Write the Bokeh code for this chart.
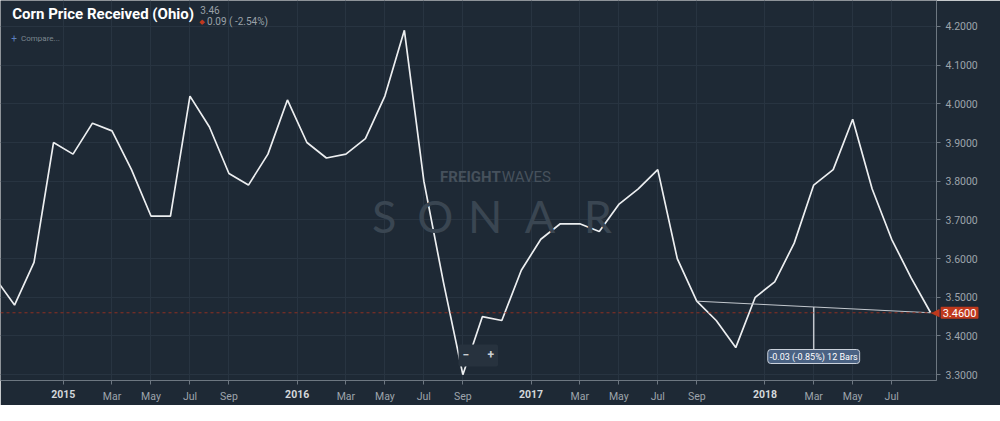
import pandas as pd
from bokeh.plotting import figure
from bokeh.models import Range1d, FixedTicker, Span, Label, PrintfTickFormatter
from bokeh.embed import file_html
from bokeh.resources import INLINE

# ---------------- data ----------------
months = [d.strftime("%Y-%m") for d in pd.date_range("2014-09-01", "2018-09-01", freq="MS")]
price = [3.55, 3.48, 3.59, 3.90,
         3.87, 3.95, 3.93, 3.83, 3.71, 3.71, 4.02, 3.94, 3.82, 3.79, 3.87, 4.01,
         3.90, 3.86, 3.87, 3.91, 4.02, 4.19, 3.80, 3.54, 3.30, 3.45, 3.44, 3.57,
         3.65, 3.69, 3.69, 3.67, 3.74, 3.78, 3.83, 3.60, 3.49, 3.44, 3.37, 3.50,
         3.54, 3.64, 3.79, 3.83, 3.96, 3.78, 3.65, 3.55, 3.46]
y_ticks = [3.3, 3.4, 3.5, 3.6, 3.7, 3.8, 3.9, 4.0, 4.1, 4.2]
month_ticks = {"03": "Mar", "05": "May", "07": "Jul", "09": "Sep"}
title = "Corn Price Received (Ohio)"
last_txt = "3.46"
change_txt = "0.09 ( -2.54%)"
measure_txt = "-0.03 (-0.85%) 12 Bars"
measure_start = "2017-09"
measure_mid = "2018-03"

idx = list(range(len(price)))

BG = "#1e2935"
GRID = "#283441"
AXC = "#6d7781"
LBL = "#9da4ab"
RED = "#c0391d"

FW, FH = 936, 380
Y0, Y1 = 3.285, 4.267
kx, ky = FW / 956.0, FH / 395.0
def sx(v): return v * kx
def sy(v): return FH - v * ky
px_per_unit = FH / (Y1 - Y0)

p = figure(frame_width=FW, frame_height=FH, output_backend="svg", toolbar_location=None,
           x_range=Range1d(0.28, 48.3), y_range=Range1d(Y0, Y1),
           y_axis_location="right", x_axis_location="below",
           background_fill_color=BG, border_fill_color=BG, min_border=0,
           min_border_bottom=25)
p.outline_line_color = None

# ticks
xt, xl, yr_x, yr_t = [], {}, [], []
for i, m in enumerate(months[:-1]):
    yr, mo = m.split("-")
    if mo in month_ticks:
        xt.append(i); xl[i] = month_ticks[mo]
    if mo == "01":
        xt.append(i - 0.5); xl[i - 0.5] = " "
        yr_x.append(i - 0.5); yr_t.append(yr)

p.xaxis.ticker = FixedTicker(ticks=xt)
p.xaxis.major_label_overrides = xl
p.yaxis.ticker = FixedTicker(ticks=y_ticks)
p.yaxis.formatter = PrintfTickFormatter(format="%.4f")
for ax in (p.xaxis[0], p.yaxis[0]):
    ax.axis_line_color = AXC
    ax.major_tick_line_color = AXC
    ax.major_tick_out = 4
    ax.major_tick_in = 0
    ax.minor_tick_line_color = None
    ax.major_label_text_color = LBL
    ax.major_label_text_font = "Roboto"
    ax.major_label_text_font_size = "10.5px"
    ax.major_label_standoff = 5
p.xgrid.ticker = FixedTicker(ticks=xt)
p.ygrid.ticker = FixedTicker(ticks=y_ticks)
p.xgrid.grid_line_color = GRID
p.ygrid.grid_line_color = GRID

# watermark
for ch, cx in zip("SONAR", [392, 444, 495, 551, 610]):
    p.add_layout(Label(x=sx(cx), y=sy(224), x_units="screen", y_units="screen", text=ch,
                       text_align="center", text_baseline="middle", text_color="#3a4652",
                       text_font="Lato", text_font_size="45px"))
p.add_layout(Label(x=sx(449), y=sy(183), x_units="screen", y_units="screen", text="FREIGHT",
                   text_baseline="middle", text_color="#46515c", text_font="Roboto",
                   text_font_style="bold", text_font_size="15px"))
p.add_layout(Label(x=sx(512), y=sy(183), x_units="screen", y_units="screen", text="WAVES",
                   text_baseline="middle", text_color="#46515c", text_font="Roboto",
                   text_font_size="15px"))

# reference line at last value
p.add_layout(Span(location=price[-1], dimension="width", line_color="#8e2f22",
                  line_dash="3 3", line_width=1))

# main series
p.line(idx, price, line_color="#eceef0", line_width=1.7)

# measure annotation
i0 = months.index(measure_start)
im = months.index(measure_mid)
i1 = len(price) - 1
p.line([i0, i1], [price[i0], price[i1]], line_color="#c3c8ce", line_width=1)
ymid = price[i0] + (price[i1] - price[i0]) * (im - i0) / (i1 - i0)
p.line([im, im], [ymid, Y0 + 30 / px_per_unit], line_color="#c3c8ce", line_width=1.5)
p.add_layout(Label(x=im, y=Y0 + 24 / px_per_unit, text=measure_txt, text_align="center",
                   text_baseline="middle", text_color="#ffffff", text_font="Roboto",
                   text_font_size="9px", background_fill_color="#4a6283",
                   border_line_color="#c9d0da", padding=2, border_radius=3))

# zoom buttons
p.add_layout(Label(x=sx(488), y=sy(369), x_units="screen", y_units="screen",
                   text="\u2212\u2002\u2002\u2002+", text_align="center", text_baseline="middle",
                   text_color="#c9cdd2", text_font="Roboto", text_font_style="bold",
                   text_font_size="12px", background_fill_color="#27323e", padding=4,
                   border_radius=2))

# price tag on the right axis (side panel so it is not clipped to the frame)
p.add_layout(Label(x=idx[-1], y=price[-1], x_offset=0, text="\u25C0", text_baseline="middle",
                   text_color=RED, text_font="DejaVu Sans", text_font_size="11px"), "right")
p.add_layout(Label(x=idx[-1], y=price[-1], x_offset=10, text="3.4600", text_baseline="middle",
                   text_color="#ffffff", text_font="Roboto", text_font_size="11px",
                   background_fill_color=RED, padding=2, border_radius=1), "right")

# year labels under the axis
for xv, yr in zip(yr_x, yr_t):
    p.add_layout(Label(x=xv, y=Y0 - 13 / px_per_unit, text=yr, text_align="center",
                       text_baseline="middle", text_color="#d3d7db", text_font="Roboto",
                       text_font_style="bold", text_font_size="10.5px"), "right")

# header
p.add_layout(Label(x=sx(12), y=sy(14), x_units="screen", y_units="screen", text=title,
                   text_baseline="middle", text_color="#ffffff", text_font="Roboto",
                   text_font_style="bold", text_font_size="15px"))
p.add_layout(Label(x=sx(204), y=sy(10), x_units="screen", y_units="screen", text=last_txt,
                   text_baseline="middle", text_color="#9aa1a8", text_font="Roboto",
                   text_font_size="10px"))
p.add_layout(Label(x=sx(203), y=sy(22), x_units="screen", y_units="screen", text="\u25C6",
                   text_baseline="middle", text_color=RED, text_font="DejaVu Sans",
                   text_font_size="7px"))
p.add_layout(Label(x=sx(211), y=sy(22), x_units="screen", y_units="screen", text=change_txt,
                   text_baseline="middle", text_color="#9aa1a8", text_font="Roboto",
                   text_font_size="10px"))
p.add_layout(Label(x=sx(11), y=sy(39), x_units="screen", y_units="screen", text="+",
                   text_baseline="middle", text_color="#5b7fbf", text_font="Roboto",
                   text_font_size="10px"))
p.add_layout(Label(x=sx(21), y=sy(39), x_units="screen", y_units="screen", text="Compare...",
                   text_baseline="middle", text_color="#7c868f", text_font="Roboto",
                   text_font_size="8px"))

open("out.html", "w").write(file_html(p, INLINE))
